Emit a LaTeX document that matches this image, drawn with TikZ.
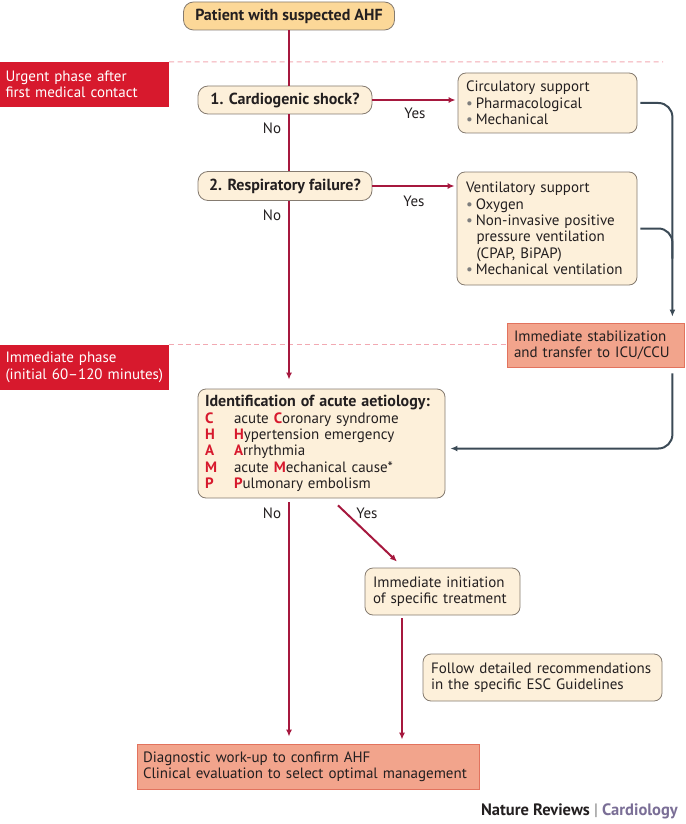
\documentclass[tikz,border=0pt]{standalone}
\usepackage{fontspec}
\setmainfont{PT Sans}
\usetikzlibrary{arrows.meta}

\definecolor{cream}{HTML}{FDF0DA}
\definecolor{gold}{HTML}{FCD898}
\definecolor{phasered}{HTML}{D7192D}
\definecolor{salmon}{HTML}{F2A48C}
\definecolor{salmonline}{HTML}{E2735E}
\definecolor{wine}{HTML}{A6183E}
\definecolor{slate}{HTML}{3B4A56}
\definecolor{boxline}{HTML}{857B70}
\definecolor{dashpink}{HTML}{F2A9B2}
\definecolor{ink}{HTML}{231F20}
\definecolor{bulgray}{HTML}{7D7D7D}
\definecolor{cardio}{HTML}{7A6E96}

\newcommand{\hl}[1]{\textcolor{phasered}{\textbf{#1}}}
\newcommand{\bul}{{\color{bulgray}\textbullet}\hspace{3pt}}
\newcommand{\champ}[2]{\makebox[29pt][l]{\hl{#1}}#2}

\begin{document}
\begin{tikzpicture}
	[x=1pt,y=-1pt,
	every node/.style={font=\fontsize{15}{16.4}\selectfont, text=ink, inner sep=0pt},
	pale/.style={draw=boxline, line width=0.8pt, fill=cream, rounded corners=8pt,
		align=left, inner xsep=8pt},
	question/.style={draw=boxline, line width=0.8pt, fill=cream, rounded corners=10pt,
		font=\fontsize{16}{16.4}\selectfont\bfseries},
	phase/.style={fill=phasered, text=white, align=left, inner xsep=5.5pt},
	action/.style={draw=salmonline, line width=0.8pt, fill=salmon, align=left, inner xsep=7pt},
	lbl/.style={font=\fontsize{15}{16.4}\selectfont},
	redline/.style={draw=wine, line width=2pt},
	redarrow/.style={redline, -{Latex[length=7pt,width=6pt]}},
	grayline/.style={draw=slate, line width=2pt, rounded corners=14pt},
	grayarrow/.style={grayline, -{Latex[length=7pt,width=6pt]}},
	dashline/.style={draw=dashpink, line width=1pt, dash pattern=on 5pt off 3.5pt}]

	\useasboundingbox (0,0) rectangle (685,824);

	\node[question, fill=gold, minimum width=211pt, minimum height=28pt] (start) at (289,16)
		{Patient with suspected AHF};

	\node[phase, text width=158pt, minimum height=45pt] (urgent) at (84.5,84.5)
		{Urgent phase after\\first medical contact};
	\node[phase, text width=158pt, minimum height=45pt] (immed) at (84.5,367.5)
		{Immediate phase\\(initial 60--120 minutes)};

	\node[question, minimum width=174pt, minimum height=28pt] (q1) at (285,100)
		{1. Cardiogenic shock?};
	\node[question, minimum width=174pt, minimum height=29pt] (q2) at (285,186)
		{2. Respiratory failure?};

	\node[pale, text width=163pt, minimum height=60pt] (circ) at (547.5,103)
		{Circulatory support\\\bul Pharmacological\\\bul Mechanical};
	\node[pale, text width=162pt, inner xsep=9pt, minimum height=113pt] (vent) at (547,228.5)
		{Ventilatory support\\\bul Oxygen\\\bul Non-invasive positive\\
		\hspace*{10.5pt}pressure ventilation\\\hspace*{10.5pt}(CPAP, BiPAP)\\
		\bul Mechanical ventilation};

	\node[action, text width=163pt, minimum height=44pt] (stab) at (595.5,345)
		{Immediate stabilization\\and transfer to ICU/CCU};

	\node[pale, inner xsep=7pt, text width=233pt, minimum height=109pt] (champ) at (321.5,443.5)
		{{\fontsize{16}{16.4}\selectfont\bfseries Identification of acute aetiology:}\\
		\champ{C}{acute \hl{C}oronary syndrome}\\
		\champ{H}{\hl{H}ypertension emergency}\\
		\champ{A}{\hl{A}rrhythmia}\\
		\champ{M}{acute \hl{M}echanical cause*}\\
		\champ{P}{\hl{P}ulmonary embolism}};

	\node[pale, text width=139pt, minimum height=47pt] (treat) at (442.5,591.5)
		{Immediate initiation\\of specific treatment};
	\node[pale, text width=223pt, minimum height=47pt] (follow) at (542.5,677.5)
		{Follow detailed recommendations\\in the specific ESC Guidelines};

	\node[action, inner xsep=6pt, text width=330pt, minimum height=45pt] (diag) at (308,766.5)
		{Diagnostic work-up to confirm AHF\\Clinical evaluation to select optimal management};

	\node[lbl] (no1) at (272,128) {No};
	\node[lbl] (no2) at (272,215) {No};
	\node[lbl] (no3) at (272,513) {No};
	\node[lbl] (yes1) at (415,113) {Yes};
	\node[lbl] (yes2) at (414,201) {Yes};
	\node[lbl] (yes3) at (367,513) {Yes};

	\node[anchor=base east, font=\fontsize{16.5}{17}\selectfont\bfseries] (credit) at (678,815)
		{Nature Reviews {\color{bulgray}\mdseries|} \textcolor{cardio}{Cardiology}};

	\draw[dashline] (urgent.north east) -- (663,62);
	\draw[dashline] (immed.north east) -- (stab.west |- immed.north);

	\draw[redline] (start.south) -- (start.south |- q1.north);
	\draw[redline] (q1.south -| start.south) -- (q2.north -| start.south);
	\draw[redarrow, shorten >=9pt] (q2.south -| start.south) -- (champ.north -| start.south);

	\foreach \from/\to in {q1/circ,q2/vent}
	\draw[redarrow, shorten >=2pt] (\from.east) -- (\from.east -| \to.west);

	\draw[redarrow, shorten <=4pt, shorten >=7pt] (champ.south -| start.south) -- (diag.north -| start.south);
	\draw[redarrow] ([xshift=16.5pt,yshift=-7pt]champ.south) -- ([xshift=-45.5pt,yshift=6pt]treat.north);
	\draw[redarrow, shorten <=3pt, shorten >=4pt] ([xshift=-40.5pt]treat.south) -- ([xshift=-40.5pt]treat.south |- diag.north);

	\draw[grayarrow, shorten <=3pt, shorten >=6pt] (circ.east) -| ([xshift=-12pt]stab.north east);
	\draw[grayline, shorten <=3pt] (vent.east) -| ++(35,30);
	\draw[grayarrow, shorten <=6pt, shorten >=5pt] ([xshift=-12pt]stab.south east) |- ([yshift=-5pt]champ.east);
\end{tikzpicture}
\end{document}
